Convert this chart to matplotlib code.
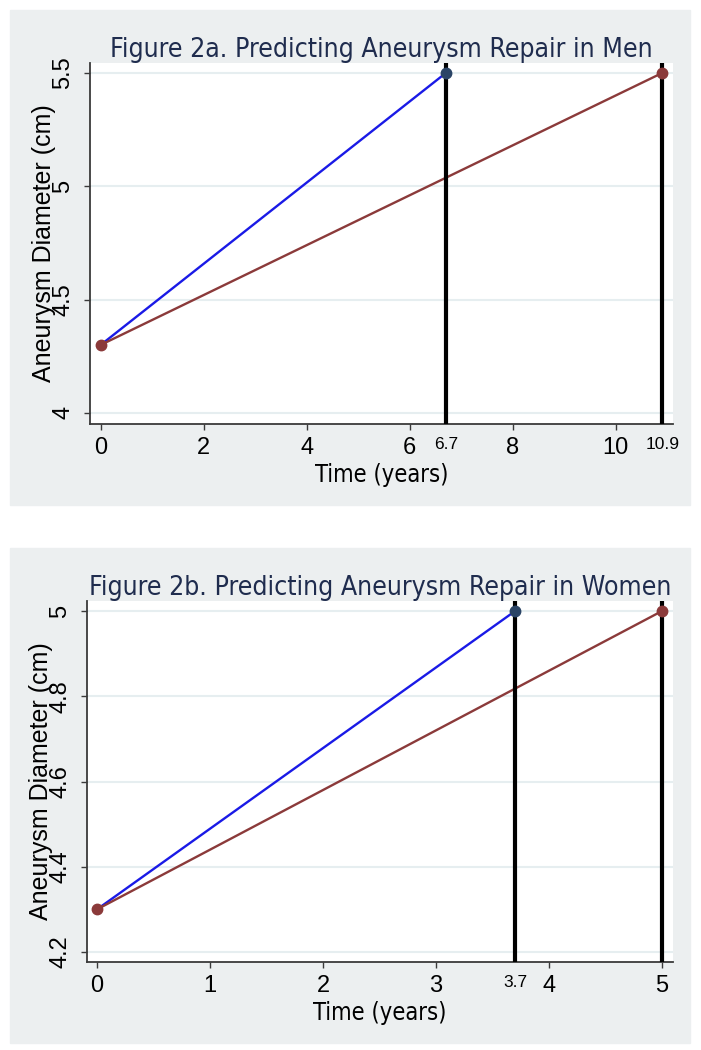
import matplotlib
matplotlib.use("Agg")
import matplotlib.pyplot as plt
from matplotlib.patches import Rectangle

# values
men_time_fast = [0, 6.7]
men_diam_fast = [4.3, 5.5]
men_time_slow = [0, 10.9]
men_diam_slow = [4.3, 5.5]
men_repair = [6.7, 10.9]
men_xticks = [0, 2, 4, 6, 8, 10]
men_yticks = [4, 4.5, 5, 5.5]
men_yticklabels = ["4", "4.5", "5", "5.5"]

women_time_fast = [0, 3.7]
women_diam_fast = [4.3, 5.0]
women_time_slow = [0, 5]
women_diam_slow = [4.3, 5.0]
women_repair = [3.7, 5]
women_xticks = [0, 1, 2, 3, 4, 5]
women_yticks = [4.2, 4.4, 4.6, 4.8, 5.0]
women_yticklabels = ["4.2", "4.4", "4.6", "4.8", "5"]

blue = "#1a1ae6"
maroon = "#8b3a3a"
navy = "#2a4466"
title_col = "#1f2c4e"
grid_col = "#e6eef0"
panel_bg = "#eceff0"
axis_col = "#3a3a3a"

fig = plt.figure(figsize=(7.01, 10.5), dpi=100)
fig.patch.set_facecolor("white")

# gray graph regions (Stata style)
fig.add_artist(Rectangle((10/701, 1 - 505/1050), 680/701, 495/1050,
                         transform=fig.transFigure, color=panel_bg, zorder=0))
fig.add_artist(Rectangle((10/701, 1 - 1043/1050), 680/701, 495/1050,
                         transform=fig.transFigure, color=panel_bg, zorder=0))


def draw_panel(ax, title, tf, df, ts, ds, repair, xticks, yticks, ylabels, xlim, ylim, extra_ticks):
    ax.set_facecolor("white")
    for y in yticks:
        ax.axhline(y, color=grid_col, lw=1.5, zorder=1)
    ax.plot(tf, df, color=blue, lw=1.7, zorder=3)
    ax.plot(ts, ds, color=maroon, lw=1.7, zorder=3)
    ax.plot(tf[-1], df[-1], "o", color=navy, ms=7.5, zorder=5)
    ax.plot(ts, ds, "o", color=maroon, ms=7.5, zorder=5, lw=0)
    for r in repair:
        ax.axvline(r, color="black", lw=3, zorder=4)
    ax.set_xlim(xlim)
    ax.set_ylim(ylim)
    ax.spines["top"].set_visible(False)
    ax.spines["right"].set_visible(False)
    for s in ("left", "bottom"):
        ax.spines[s].set_color(axis_col)
        ax.spines[s].set_linewidth(1.3)
    ax.set_xticks(xticks)
    ax.set_xticklabels([str(t) for t in xticks], fontsize=17, family="Liberation Sans")
    ax.set_yticks(yticks)
    ax.set_yticklabels(ylabels, fontsize=17, family="Liberation Sans", rotation=90, va="center")
    ax.tick_params(axis="both", length=4.5, width=1, color=axis_col)
    ax.tick_params(axis="x", pad=4.5)
    ax.tick_params(axis="y", pad=7)
    for t in extra_ticks:
        ax.annotate(str(t), xy=(t, 0), xycoords=("data", "axes fraction"),
                    xytext=(0, -9.5), textcoords="offset points",
                    ha="center", va="top", fontsize=12.5, family="Liberation Sans")
    ax.set_xlabel("Time (years)", fontsize=17, family="DejaVu Sans", stretch="condensed", labelpad=3)
    ax.set_ylabel("Aneurysm Diameter (cm)", fontsize=18, family="Liberation Sans", labelpad=-3)
    ax.set_title(title, fontsize=19.1, family="DejaVu Sans", stretch="condensed", color=title_col, pad=4)


ax1 = fig.add_axes([90/701, 1 - 424/1050, 583/701, 361/1050])
draw_panel(ax1, "Figure 2a. Predicting Aneurysm Repair in Men",
           men_time_fast, men_diam_fast, men_time_slow, men_diam_slow, men_repair,
           men_xticks, men_yticks, men_yticklabels, (-0.208, 11.11), (3.951, 5.544), men_repair)

ax2 = fig.add_axes([87/701, 1 - 962/1050, 586/701, 361/1050])
draw_panel(ax2, "Figure 2b. Predicting Aneurysm Repair in Women",
           women_time_fast, women_diam_fast, women_time_slow, women_diam_slow, women_repair,
           women_xticks, women_yticks, women_yticklabels, (-0.0885, 5.097), (4.1765, 5.0235), [3.7])

fig.savefig("out.png", dpi=100)
